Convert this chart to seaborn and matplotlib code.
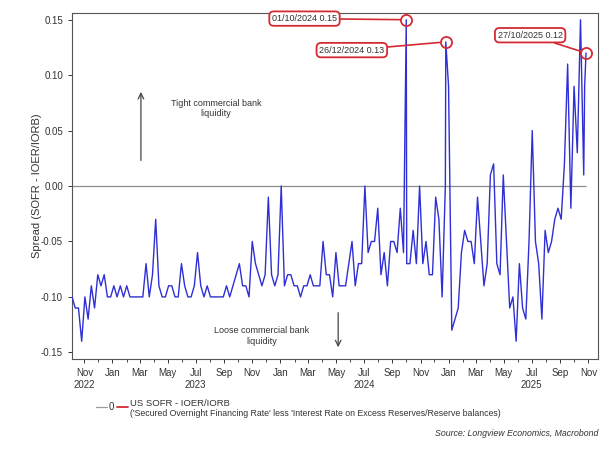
import pandas as pd
import matplotlib
matplotlib.use("Agg")
import matplotlib.pyplot as plt
import matplotlib.dates as mdates
import seaborn as sns

### US SOFR less IOER/IORB spread, weekly readings plus the daily spikes

start_date = "2022-10-05"
weekly_spread = [
    -0.10, -0.11, -0.11, -0.14, -0.10, -0.12, -0.09, -0.11, -0.08, -0.09,
    -0.08, -0.10, -0.10, -0.09, -0.10, -0.09, -0.10, -0.09, -0.10, -0.10,
    -0.10, -0.10, -0.10, -0.07, -0.10, -0.08, -0.03, -0.09, -0.10, -0.10,
    -0.09, -0.09, -0.10, -0.10, -0.07, -0.09, -0.10, -0.10, -0.09, -0.06,
    -0.09, -0.10, -0.09, -0.10, -0.10, -0.10, -0.10, -0.10, -0.09, -0.10,
    -0.09, -0.08, -0.07, -0.09, -0.09, -0.10, -0.05, -0.07, -0.08, -0.09,
    -0.08, -0.01, -0.08, -0.09, -0.08, 0.00, -0.09, -0.08, -0.08, -0.09,
    -0.09, -0.10, -0.09, -0.09, -0.08, -0.09, -0.09, -0.09, -0.05, -0.08,
    -0.08, -0.10, -0.06, -0.09, -0.09, -0.09, -0.07, -0.05, -0.09, -0.07,
    -0.07, 0.00, -0.06, -0.05, -0.05, -0.02, -0.08, -0.06, -0.09, -0.05,
    -0.05, -0.06, -0.02, -0.06, -0.07, -0.07, -0.04, -0.07, 0.00, -0.07,
    -0.05, -0.08, -0.08, -0.01, -0.03, -0.10, 0.00, 0.09, -0.13, -0.12,
    -0.11, -0.06, -0.04, -0.05, -0.05, -0.07, -0.01, -0.05, -0.09, -0.07,
    0.01, 0.02, -0.07, -0.08, 0.01, -0.05, -0.11, -0.10, -0.14, -0.07,
    -0.11, -0.12, -0.05, 0.05, -0.05, -0.07, -0.12, -0.04, -0.06, -0.05,
    -0.03, -0.02, -0.03, 0.02, 0.11, -0.02, 0.09, 0.03, 0.15, 0.01,
]
spike_dates = ["2024-10-01", "2024-12-26", "2025-10-24", "2025-10-27"]
spike_values = [0.15, 0.13, 0.09, 0.12]

note_dates = ["2024-10-01", "2024-12-26", "2025-10-27"]
note_values = [0.15, 0.13, 0.12]
note_labels = ["01/10/2024 0.15", "26/12/2024 0.13", "27/10/2025 0.12"]

weekly = pd.DataFrame({
    "date": pd.date_range(start_date, periods=len(weekly_spread), freq="7D"),
    "spread": weekly_spread,
})
spikes = pd.DataFrame({"date": pd.to_datetime(spike_dates), "spread": spike_values})
df = pd.concat([weekly, spikes]).sort_values("date").reset_index(drop=True)

sns.set_style("white")
plt.rcParams["font.family"] = ["Liberation Sans", "DejaVu Sans"]

fig = plt.figure(figsize=(6.13, 4.51), dpi=100)
ax = fig.add_axes([0.1175, 0.204, 0.858, 0.767])

ax.hlines(0, df["date"].iloc[0], df["date"].iloc[-1], color="#8c8c8c", lw=0.9, zorder=1)
sns.lineplot(data=df, x="date", y="spread", ax=ax, color="#2f2fd6", lw=1.0, zorder=3)

ax.set_xlim(pd.Timestamp("2022-10-05"), pd.Timestamp("2025-11-22"))
ax.set_ylim(-0.156, 0.156)
ax.set_yticks([-0.15, -0.10, -0.05, 0.00, 0.05, 0.10, 0.15])
ax.set_yticklabels([f"{v:.2f}" for v in ax.get_yticks()])

ticks = pd.date_range("2022-11-01", "2025-11-01", freq="2MS")
labels = []
for t in ticks:
    lab = t.strftime("%b")
    if (t.year == 2022 and t.month == 11) or (t.year > 2022 and t.month == 7):
        lab += f"\n{t.year}"
    labels.append(lab)
ax.set_xticks(ticks)
ax.set_xticklabels(labels, ha="center", va="top")
ax.xaxis.set_minor_locator(mdates.MonthLocator())
ax.tick_params(axis="both", which="major", labelsize=7, colors="#333333",
               direction="out", length=3, width=0.7, bottom=True, left=True)
ax.tick_params(axis="x", which="minor", direction="out", length=2, width=0.6, bottom=True)
ax.set_xlabel("")
ax.set_ylabel("Spread (SOFR - IOER/IORB)", fontsize=8, color="#333333", labelpad=-1)
for s in ax.spines.values():
    s.set_color("#555555")
    s.set_linewidth(0.8)

# annotated points
box_pos = [(0.442, 0.984), (0.532, 0.893), (0.871, 0.936)]
for d, v, lab, pos in zip(note_dates, note_values, note_labels, box_pos):
    dt = pd.Timestamp(d)
    ax.plot([dt], [v], marker="o", ms=8, mfc="none", mec="#d42a34", mew=1.3,
            zorder=5, clip_on=False)
    ax.annotate(lab, xy=(dt, v), xycoords="data", xytext=pos, textcoords="axes fraction",
                ha="center", va="center", fontsize=6.5, color="#333333",
                bbox=dict(boxstyle="round,pad=0.3,rounding_size=0.5", fc="white",
                          ec="#d42a34", lw=1.3),
                arrowprops=dict(arrowstyle="-", color="#d42a34", lw=1.2, shrinkA=0, shrinkB=4),
                annotation_clip=False, zorder=6)

# liquidity arrows
ax.annotate("", xy=(0.131, 0.780), xytext=(0.131, 0.566), xycoords="axes fraction",
            arrowprops=dict(arrowstyle="->", color="#444444", lw=0.9))
ax.text(0.274, 0.725, "Tight commercial bank\nliquidity", transform=ax.transAxes,
        ha="center", va="center", fontsize=6.5, color="#333333")
ax.annotate("", xy=(0.506, 0.026), xytext=(0.506, 0.142), xycoords="axes fraction",
            arrowprops=dict(arrowstyle="->", color="#444444", lw=0.9))
ax.text(0.361, 0.066, "Loose commercial bank\nliquidity", transform=ax.transAxes,
        ha="center", va="center", fontsize=6.5, color="#333333")

# legend / source lines under the chart
fig.lines.append(plt.Line2D([96 / 613, 107 / 613], [1 - 407 / 451] * 2, color="#9a9a9a",
                            lw=0.9, transform=fig.transFigure))
fig.text(109 / 613, 1 - 407 / 451, "0", fontsize=7, color="#333333", va="center")
fig.lines.append(plt.Line2D([117 / 613, 128 / 613], [1 - 407 / 451] * 2, color="#d42a34",
                            lw=1.3, transform=fig.transFigure))
fig.text(130 / 613, 1 - 403 / 451, "US SOFR - IOER/IORB", fontsize=6.8, color="#333333",
         va="center")
fig.text(130 / 613, 1 - 414 / 451,
         "('Secured Overnight Financing Rate' less 'Interest Rate on Excess Reserves/Reserve balances)",
         fontsize=6.3, color="#333333", va="center")
fig.text(598 / 613, 1 - 434 / 451, "Source: Longview Economics, Macrobond", fontsize=6.3,
         style="italic", color="#333333", ha="right", va="center")

fig.savefig("out.png", dpi=100)
